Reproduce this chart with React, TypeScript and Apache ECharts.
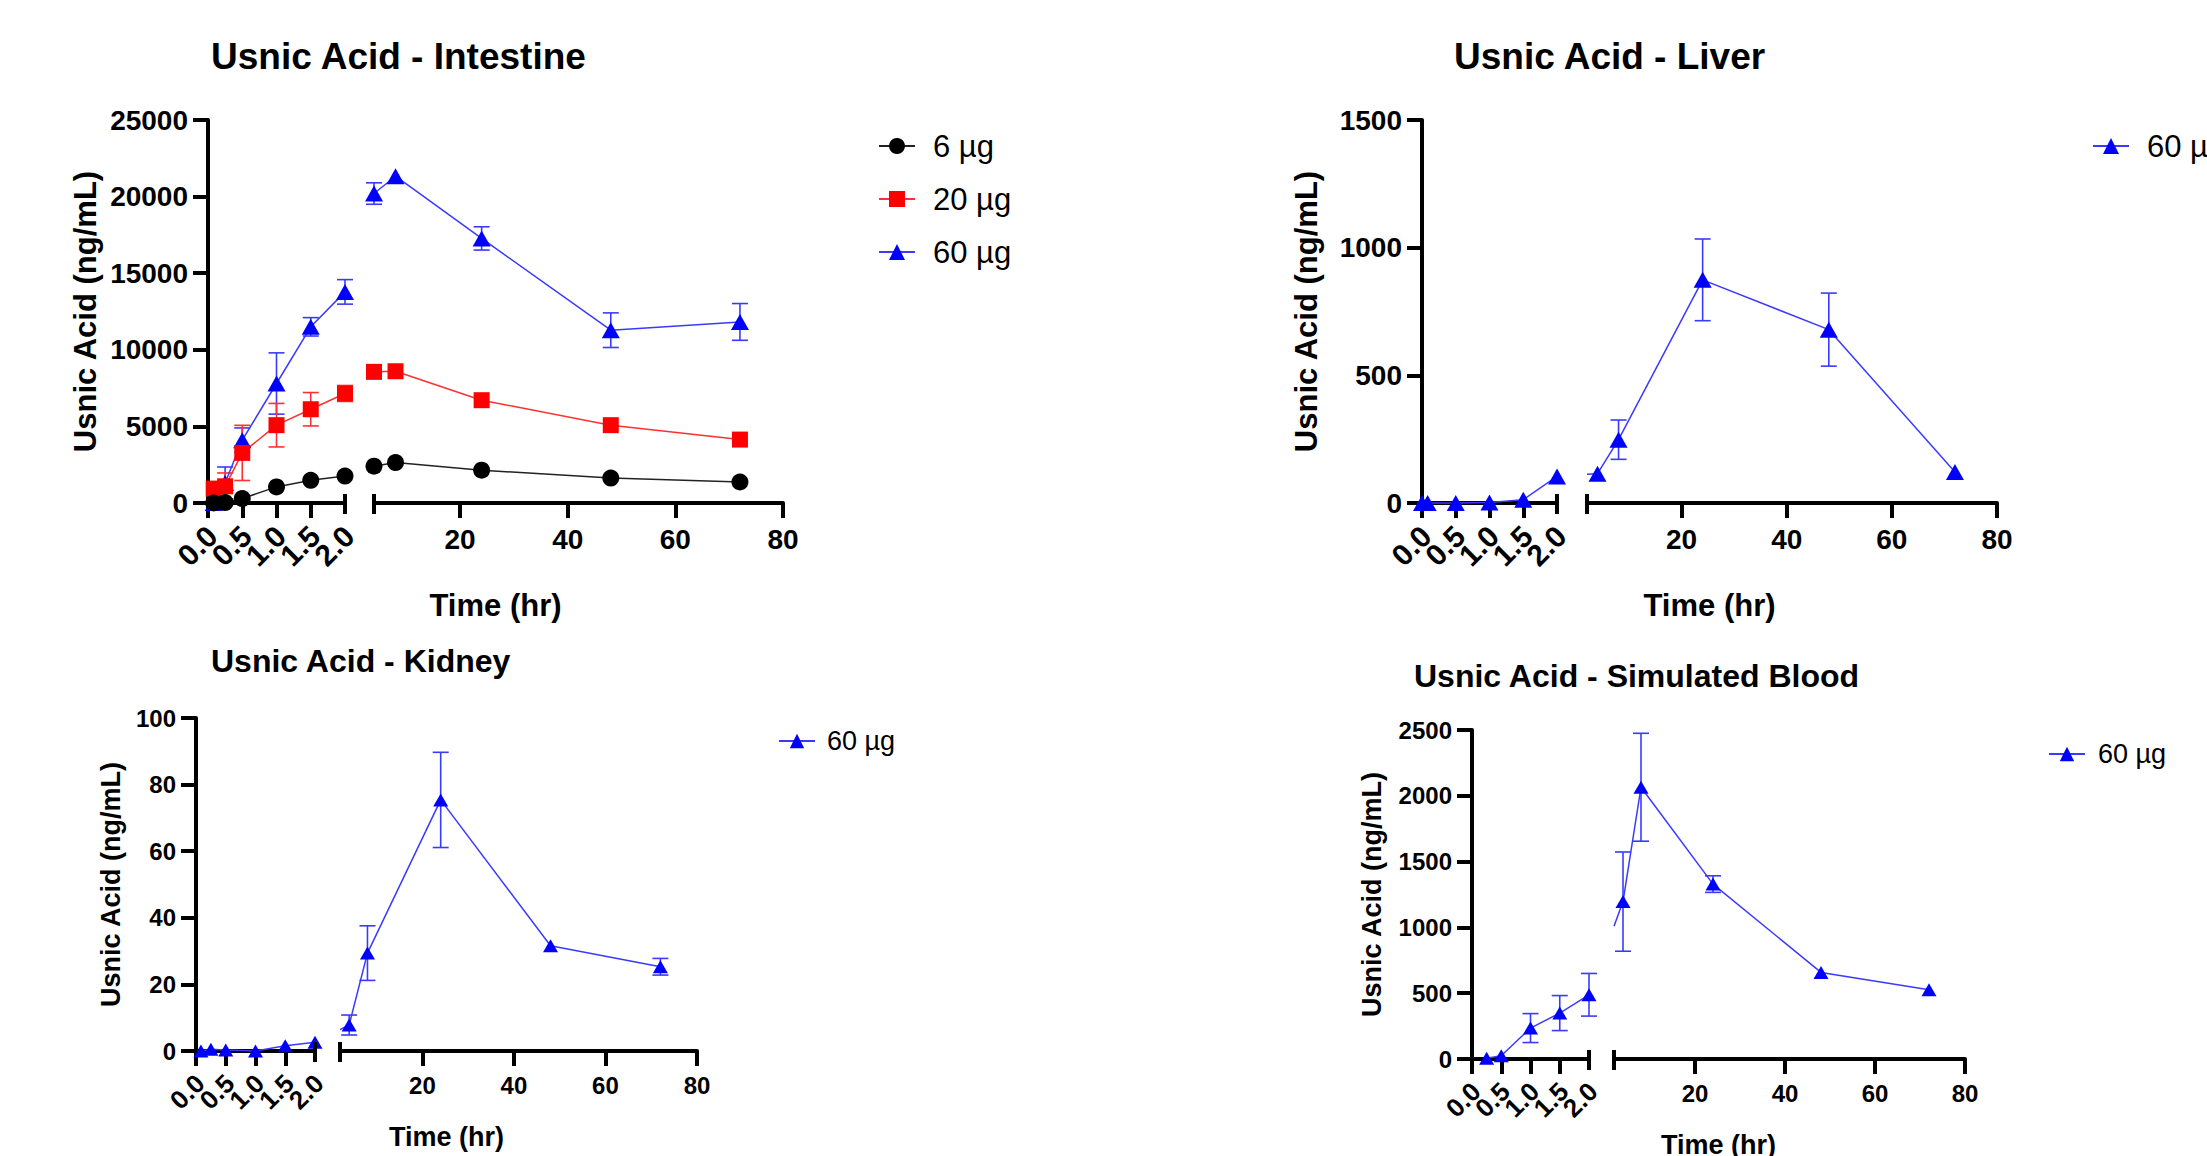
import React, { useEffect, useRef } from 'react';
import * as echarts from 'echarts';

const FONT = "'Liberation Sans', Arial, Helvetica, sans-serif";

// ---------- data ----------
const intestineTimes = [0.083, 0.25, 0.5, 1, 1.5, 2, 4, 8, 24, 48, 72];
const intestine6 = [0, 30, 290, 1050, 1480, 1760, 2400, 2640, 2140, 1630, 1370];
const intestine6Sd = [0, 0, 0, 0, 0, 0, 0, 0, 0, 0, 0];
const intestine20 = [940, 1090, 3270, 5080, 6120, 7150, 8560, 8600, 6710, 5080, 4140];
const intestine20Sd = [0, 870, 1800, 1420, 1090, 520, 0, 0, 0, 0, 0];
const intestine60 = [0, 1300, 4100, 7800, 11500, 13780, 20200, 21330, 17270, 11280, 11820];
const intestine60Sd = [0, 1050, 800, 2000, 600, 800, 700, 0, 760, 1130, 1200];

const liverTimes = [0, 0.083, 0.5, 1, 1.5, 2, 4, 8, 24, 48, 72];
const liver60 = [0, 0, 0, 2, 13, 104, 115, 248, 874, 679, 121];
const liver60Sd = [0, 0, 0, 0, 0, 0, 0, 77, 160, 143, 0];

const kidneyTimes = [0.083, 0.25, 0.5, 1, 1.5, 2, 4, 8, 24, 48, 72];
const kidney60 = [0, 0.5, 0.3, 0, 1.6, 2.6, 7.8, 29.4, 75.4, 31.6, 25.3];
const kidney60Sd = [0, 0, 0, 0, 0, 0, 3, 8.2, 14.3, 0, 2.5];

const bloodTimes = [0.25, 0.5, 1, 1.5, 2, 4, 8, 24, 48, 72];
const blood60 = [5, 25, 235, 349, 488, 1196, 2065, 1329, 658, 526];
const blood60Sd = [0, 0, 110, 133, 162, 377, 410, 63, 0, 0];

const earlyLabelValues = [0, 0.5, 1, 1.5, 2];
const earlyTickValues = [0, 0.5, 1, 1.5];
const lateTickValues = [20, 40, 60, 80];
const breakAt = 2;
const lateMax = 80;

const names = { d6: '6 µg', d20: '20 µg', d60: '60 µg' };

type DS = {
  name: string; times: number[]; values: number[]; sd: number[];
  symbol: string; size: number | number[]; color: string; line: string; err: string;
};

type Panel = {
  title: string; yMax: number; yInterval: number; rightMin: number;
  axisX: number; top: number; bottom: number; leftEnd: number; rightStart: number; rightEnd: number;
  titleX: number; titleY: number; titleSize: number;
  yNameX: number; timeY: number; nameSize: number; tickSize: number;
  legendLeft: number; legendTop: number; legendSize: number; legendPad: number;
  legendItemH: number; legendGap: number; legendNames: string[];
  datasets: DS[];
};

const BLUE = '#0000ff', BLUE_LINE = '#3a3aff';
const RED = '#ff0000', RED_LINE = '#ff3030';
const BLACK = '#000000', BLACK_LINE = '#222222';

const tri = (s: number) => [s + 1, s - 1];

const panels: Panel[] = [
  {
    title: 'Usnic Acid - Intestine', yMax: 25000, yInterval: 5000, rightMin: 4,
    axisX: 208, top: 120, bottom: 503, leftEnd: 345, rightStart: 374, rightEnd: 783,
    titleX: 211, titleY: 56, titleSize: 37, yNameX: 85, timeY: 605, nameSize: 31, tickSize: 28,
    legendLeft: 873, legendTop: 125, legendSize: 31, legendPad: 13, legendItemH: 20, legendGap: 21,
    legendNames: [names.d6, names.d20, names.d60],
    datasets: [
      { name: names.d60, times: intestineTimes, values: intestine60, sd: intestine60Sd, symbol: 'triangle', size: tri(17), color: BLUE, line: BLUE_LINE, err: BLUE_LINE },
      { name: names.d20, times: intestineTimes, values: intestine20, sd: intestine20Sd, symbol: 'rect', size: 16, color: RED, line: RED_LINE, err: RED_LINE },
      { name: names.d6, times: intestineTimes, values: intestine6, sd: intestine6Sd, symbol: 'circle', size: 17, color: BLACK, line: BLACK_LINE, err: BLACK_LINE },
    ],
  },
  {
    title: 'Usnic Acid - Liver', yMax: 1500, yInterval: 500, rightMin: 2,
    axisX: 1422, top: 120, bottom: 503, leftEnd: 1557, rightStart: 1587, rightEnd: 1997,
    titleX: 1454, titleY: 56, titleSize: 37, yNameX: 1306, timeY: 605, nameSize: 31, tickSize: 28,
    legendLeft: 2087, legendTop: 125, legendSize: 31, legendPad: 13, legendItemH: 20, legendGap: 21,
    legendNames: [names.d60],
    datasets: [
      { name: names.d60, times: liverTimes, values: liver60, sd: liver60Sd, symbol: 'triangle', size: tri(17), color: BLUE, line: BLUE_LINE, err: BLUE_LINE },
    ],
  },
  {
    title: 'Usnic Acid - Kidney', yMax: 100, yInterval: 20, rightMin: 2,
    axisX: 196, top: 718, bottom: 1051, leftEnd: 315, rightStart: 340, rightEnd: 697,
    titleX: 211, titleY: 661, titleSize: 32, yNameX: 111, timeY: 1137, nameSize: 27, tickSize: 24,
    legendLeft: 773, legendTop: 722, legendSize: 27, legendPad: 7, legendItemH: 18, legendGap: 20,
    legendNames: [names.d60],
    datasets: [
      { name: names.d60, times: kidneyTimes, values: kidney60, sd: kidney60Sd, symbol: 'triangle', size: tri(14), color: BLUE, line: BLUE_LINE, err: BLUE_LINE },
    ],
  },
  {
    title: 'Usnic Acid - Simulated Blood', yMax: 2500, yInterval: 500, rightMin: 2,
    axisX: 1472, top: 730, bottom: 1059, leftEnd: 1589, rightStart: 1614, rightEnd: 1965,
    titleX: 1414, titleY: 676, titleSize: 32, yNameX: 1372, timeY: 1145, nameSize: 27, tickSize: 24,
    legendLeft: 2043, legendTop: 735, legendSize: 27, legendPad: 8, legendItemH: 18, legendGap: 20,
    legendNames: [names.d60],
    datasets: [
      { name: names.d60, times: bloodTimes, values: blood60, sd: blood60Sd, symbol: 'triangle', size: tri(14), color: BLUE, line: BLUE_LINE, err: BLUE_LINE },
    ],
  },
];

function buildOption() {
  const grid: any[] = [];
  const xAxis: any[] = [];
  const yAxis: any[] = [];
  const series: any[] = [];
  const legend: any[] = [];
  const graphic: any[] = [];

  panels.forEach((p, i) => {
    const li = 2 * i, ri = 2 * i + 1;
    const h = p.bottom - p.top;
    grid.push({ left: p.axisX, top: p.top, width: p.leftEnd - p.axisX, height: h, containLabel: false });
    grid.push({ left: p.rightStart, top: p.top, width: p.rightEnd - p.rightStart, height: h, containLabel: false });

    const axisLine = { show: true, lineStyle: { color: '#000', width: 4 } };
    const tickStyle = { color: '#000', width: 4 };
    const labelBase = {
      color: '#000', fontFamily: FONT, fontWeight: 'bold', fontSize: p.tickSize,
      showMinLabel: true, showMaxLabel: true, hideOverlap: false,
    };

    xAxis.push({
      type: 'value', gridIndex: li, min: 0, max: breakAt, interval: 0.5,
      axisLine, splitLine: { show: false },
      axisTick: { show: true, length: 15, lineStyle: tickStyle, customValues: earlyTickValues },
      axisLabel: { show: false },
    });
    xAxis.push({
      type: 'value', gridIndex: ri, min: p.rightMin, max: lateMax,
      axisLine, splitLine: { show: false },
      axisTick: { show: true, length: 15, lineStyle: tickStyle, customValues: lateTickValues },
      axisLabel: { ...labelBase, margin: 22, customValues: lateTickValues, formatter: (v: number) => String(v) },
    });
    yAxis.push({
      type: 'value', gridIndex: li, min: 0, max: p.yMax, interval: p.yInterval,
      axisLine, splitLine: { show: false },
      axisTick: { show: true, length: 15, lineStyle: tickStyle },
      axisLabel: { ...labelBase, margin: 20, formatter: (v: number) => String(v) },
    });
    yAxis.push({ type: 'value', gridIndex: ri, min: 0, max: p.yMax, interval: p.yInterval, show: false });

    // rotated tick labels of the early (0-2 h) segment, placed through the axis scale
    const rotSize = p.tickSize + 2;
    series.push({
      type: 'custom', xAxisIndex: li, yAxisIndex: li, silent: true, z: 5,
      data: earlyLabelValues.map((v) => [v, 0]),
      renderItem: (_params: any, api: any) => {
        const pt = api.coord([api.value(0), api.value(1)]);
        return {
          type: 'text', x: pt[0] + 4, y: pt[1] + 28, rotation: Math.PI / 4,
          style: {
            text: Number(api.value(0)).toFixed(1), fill: '#000',
            font: `bold ${rotSize}px ${FONT}`, align: 'right', verticalAlign: 'middle',
          },
        };
      },
    });

    // break caps on the axes
    const capSeries = (axisIdx: number, xv: number, up: number, down: number) => ({
      type: 'custom', xAxisIndex: axisIdx, yAxisIndex: axisIdx, silent: true, z: 5,
      data: [[xv, 0]],
      renderItem: (_params: any, api: any) => {
        const pt = api.coord([api.value(0), api.value(1)]);
        return { type: 'line', shape: { x1: pt[0], y1: pt[1] - up, x2: pt[0], y2: pt[1] + down }, style: { stroke: '#000', lineWidth: 4 } };
      },
    });
    series.push(capSeries(li, breakAt, 9, 11));
    series.push(capSeries(ri, p.rightMin, 9, 11));

    p.datasets.forEach((d) => {
      const leftPts: number[][] = [], rightPts: number[][] = [];
      const leftErr: number[][] = [], rightErr: number[][] = [];
      d.times.forEach((t, k) => {
        const pt = [t, d.values[k]];
        const er = [t, d.values[k] - d.sd[k], d.values[k] + d.sd[k]];
        if (t <= breakAt) { leftPts.push(pt); if (d.sd[k] > 0) leftErr.push(er); }
        else { rightPts.push(pt); if (d.sd[k] > 0) rightErr.push(er); }
      });
      const lineSeries = (idx: number, data: number[][]) => ({
        type: 'line', name: d.name, xAxisIndex: idx, yAxisIndex: idx, data,
        symbol: d.symbol, symbolSize: d.size, showAllSymbol: true,
        itemStyle: { color: d.color }, lineStyle: { color: d.line, width: 1.5 },
        z: 3, clip: false,
      });
      const capW = 16;
      const errSeries = (idx: number, data: number[][]) => ({
        type: 'custom', xAxisIndex: idx, yAxisIndex: idx, data, silent: true, z: 2,
        renderItem: (_params: any, api: any) => {
          const x = api.value(0);
          const a = api.coord([x, api.value(1)]);
          const b = api.coord([x, api.value(2)]);
          const st = { stroke: d.err, lineWidth: 1.6 };
          return {
            type: 'group', children: [
              { type: 'line', shape: { x1: a[0], y1: a[1], x2: b[0], y2: b[1] }, style: st },
              { type: 'line', shape: { x1: a[0] - capW / 2, y1: a[1], x2: a[0] + capW / 2, y2: a[1] }, style: st },
              { type: 'line', shape: { x1: b[0] - capW / 2, y1: b[1], x2: b[0] + capW / 2, y2: b[1] }, style: st },
            ],
          };
        },
      });
      series.push(errSeries(li, leftErr));
      series.push(errSeries(ri, rightErr));
      series.push(lineSeries(li, leftPts));
      series.push(lineSeries(ri, rightPts));

      // connecting line across the break, visible only inside the right segment
      if (leftPts.length && rightPts.length) {
        const lastLeft = leftPts[leftPts.length - 1];
        const firstRight = rightPts[0];
        const leftEndPx = p.leftEnd;
        series.push({
          type: 'custom', xAxisIndex: ri, yAxisIndex: ri, silent: true, z: 2,
          data: [[firstRight[0], firstRight[1], lastLeft[1]]],
          renderItem: (params: any, api: any) => {
            const p1 = api.coord([api.value(0), api.value(1)]);
            const p0y = api.coord([api.value(0), api.value(2)])[1];
            const clipX = params.coordSys.x;
            if (p1[0] - clipX < 1) return null;
            const t = (clipX - leftEndPx) / (p1[0] - leftEndPx);
            const yc = p0y + t * (p1[1] - p0y);
            return { type: 'line', shape: { x1: clipX, y1: yc, x2: p1[0], y2: p1[1] }, style: { stroke: d.line, lineWidth: 1.5 } };
          },
        });
      }
    });

    legend.push({
      data: p.legendNames, orient: 'vertical', left: p.legendLeft, top: p.legendTop,
      itemWidth: 36, itemHeight: p.legendItemH, itemGap: p.legendGap,
      selectedMode: false,
      textStyle: { color: '#000', fontFamily: FONT, fontSize: p.legendSize, lineHeight: p.legendSize + 1, padding: [0, 0, 0, p.legendPad] },
    });

    graphic.push({
      type: 'text', x: p.titleX, y: p.titleY, silent: true,
      style: { text: p.title, fill: '#000', font: `bold ${p.titleSize}px ${FONT}`, align: 'left', verticalAlign: 'middle' },
    });
    graphic.push({
      type: 'text', x: p.yNameX, y: (p.top + p.bottom) / 2, rotation: Math.PI / 2, silent: true,
      style: { text: 'Usnic Acid (ng/mL)', fill: '#000', font: `bold ${p.nameSize}px ${FONT}`, align: 'center', verticalAlign: 'middle' },
    });
    graphic.push({
      type: 'text', x: (p.axisX + p.rightEnd) / 2, y: p.timeY, silent: true,
      style: { text: 'Time (hr)', fill: '#000', font: `bold ${p.nameSize}px ${FONT}`, align: 'center', verticalAlign: 'middle' },
    });
  });

  return {
    animation: false,
    backgroundColor: '#ffffff',
    textStyle: { fontFamily: FONT },
    grid, xAxis, yAxis, series, legend, graphic,
  };
}

export default function App() {
  const ref = useRef<HTMLDivElement>(null);
  useEffect(() => {
    document.body.style.margin = '0';
    if (!ref.current) return;
    const chart = echarts.init(ref.current, undefined, { renderer: 'svg' });
    chart.setOption(buildOption() as any);
    return () => chart.dispose();
  }, []);
  return <div ref={ref} style={{ width: 2207, height: 1156, background: '#fff' }} />;
}
